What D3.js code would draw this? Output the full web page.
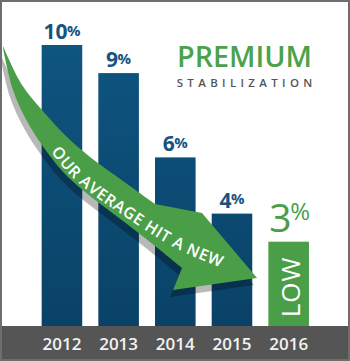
<!DOCTYPE html>
<html>
<head>
<meta charset="utf-8">
<script src="https://cdn.jsdelivr.net/npm/d3@7"></script>
<style>
  html, body { margin: 0; padding: 0; background: #fff; }
  svg { display: block; font-family: "Open Sans", sans-serif; }
</style>
</head>
<body>
<div id="chart"></div>
<script>
// -- data
var years = ["2012", "2013", "2014", "2015", "2016"];
var rates = [10, 9, 6, 4, 3];          // premium stabilization, %
var yDomain = [0, 10];
var titleMain = "PREMIUM";
var titleSub = "STABILIZATION";
var arrowText = "OUR AVERAGE HIT A NEW";
var lowText = "LOW";

// arrow annotation outline (decoration, in pixels)
var arrowUpper = [[3,46],[22,85],[42,110],[65,135],[90,157],[123,181],[155,204]];
var arrowHead  = [[202,213],[257,278],[173,290]];
var arrowLower = [[182,268],[155,246],[123,221],[90,196],[67,176],[50,156],[28,123],[13,90],[3,48]];
var arrowBaseline = [[51,152],[70,175],[92,194],[118,212],[145,230],[168,244],[190,255],[232,272]];

var width = 350, height = 361;
var blue = "#0d5079", green = "#4a9e47", labelBlue = "#16547f";

var svg = d3.select("#chart")
            .append("svg")
            .attr("width", width)
            .attr("height", height);

var defs = svg.append("defs");
var grad = defs.append("linearGradient")
               .attr("id", "barGrad")
               .attr("gradientUnits", "userSpaceOnUse")
               .attr("x1", 0).attr("y1", 45)
               .attr("x2", 0).attr("y2", 326);
grad.append("stop").attr("offset", "0%").attr("stop-color", "#0e5580");
grad.append("stop").attr("offset", "100%").attr("stop-color", "#0a4267");

// scales
var x = d3.scaleBand()
          .domain(years)
          .range([33.6, 317])
          .paddingInner(0.284)
          .paddingOuter(0.142);

var y = d3.scaleLinear()
          .domain(yDomain)
          .range([326, 45]);

// bars
svg.selectAll(".bar")
   .data(years)
   .enter()
   .append("rect")
   .attr("class", "bar")
   .attr("x", function(d) { return x(d); })
   .attr("y", function(d, i) { return y(rates[i]); })
   .attr("width", x.bandwidth())
   .attr("height", function(d, i) { return y(0) - y(rates[i]); })
   .attr("fill", function(d, i) { return i == years.length - 1 ? green : "url(#barGrad)"; });

// value labels (blue bars)
var lab = svg.selectAll(".val")
   .data(years.slice(0, 4))
   .enter()
   .append("text")
   .attr("class", "val")
   .attr("text-anchor", "middle")
   .attr("x", function(d) { return x(d) + x.bandwidth() / 2; })
   .attr("y", function(d, i) { return y(rates[i]) - 6; })
   .attr("fill", labelBlue)
   .attr("font-weight", 700);
lab.append("tspan").attr("font-size", 21).text(function(d, i) { return rates[i]; });
lab.append("tspan").attr("font-size", 15).attr("dy", -3.5).attr("dx", -0.5).text("%");

// last year label
var last = years[years.length - 1];
var lastLab = svg.append("text")
   .attr("text-anchor", "middle")
   .attr("x", x(last) + x.bandwidth() / 2 + 1)
   .attr("y", y(rates[rates.length - 1]) - 10)
   .attr("fill", green)
   .attr("font-weight", 500);
lastLab.append("tspan").attr("font-size", 39).text(rates[rates.length - 1]);
lastLab.append("tspan").attr("font-size", 24).attr("dy", -11.3).attr("dx", -1.5).text("%");

svg.append("text")
   .attr("transform", "translate(" + (x(last) + x.bandwidth() / 2 + 1) + "," + ((y(rates[rates.length - 1]) + y(0)) / 2 + 3) + ") rotate(-90)")
   .attr("text-anchor", "middle")
   .attr("dominant-baseline", "central")
   .attr("fill", "#fff")
   .attr("font-size", 26)
   .attr("font-weight", 500)
   .attr("letter-spacing", 1)
   .text(lowText);

// -- the curved arrow
var smooth = d3.line().curve(d3.curveCatmullRom.alpha(0.5));
var arrowD = smooth(arrowUpper)
           + arrowHead.map(function(p) { return "L" + p; }).join("")
           + "L" + smooth(arrowLower).slice(1) + "Z";

svg.append("path")
   .attr("d", arrowD)
   .attr("transform", "translate(-3,7)")
   .attr("fill", "#000")
   .attr("opacity", 0.28);

svg.append("path")
   .attr("d", arrowD)
   .attr("fill", green);

defs.append("path")
    .attr("id", "arrowPath")
    .attr("d", smooth(arrowBaseline));

svg.append("text")
   .attr("fill", "#fff")
   .attr("font-size", 16)
   .attr("font-weight", 600)
   .attr("letter-spacing", 0.6)
   .append("textPath")
   .attr("href", "#arrowPath")
   .text(arrowText);

// -- title
svg.append("text")
   .attr("x", 177)
   .attr("y", 66.7)
   .attr("fill", "#4ba24a")
   .attr("font-size", 28)
   .attr("font-weight", 600)
   .attr("textLength", 135)
   .attr("lengthAdjust", "spacingAndGlyphs")
   .text(titleMain);

svg.append("text")
   .attr("x", 176.7)
   .attr("y", 87.3)
   .attr("fill", "#555")
   .attr("font-size", 11.5)
   .attr("font-weight", 600)
   .attr("textLength", 135.6)
   .attr("lengthAdjust", "spacing")
   .text(titleSub);

// -- bottom band + year axis
svg.append("rect")
   .attr("x", 0)
   .attr("y", y(0))
   .attr("width", width)
   .attr("height", height - y(0))
   .attr("fill", "#555");

var xAxis = d3.axisBottom(x).tickSize(0).tickPadding(12);
var ax = svg.append("g")
   .attr("transform", "translate(0," + y(0) + ")")
   .call(xAxis);
ax.select(".domain").remove();
ax.selectAll("text")
  .attr("fill", "#f2f2f2")
  .attr("font-size", 17)
  .attr("font-weight", 600)
  .attr("font-family", "'Open Sans', sans-serif");

// frame
svg.append("rect")
   .attr("x", 1).attr("y", 1)
   .attr("width", width - 2).attr("height", height - 2)
   .attr("fill", "none")
   .attr("stroke", "#6e6e6e")
   .attr("stroke-width", 2);
</script>
</body>
</html>
